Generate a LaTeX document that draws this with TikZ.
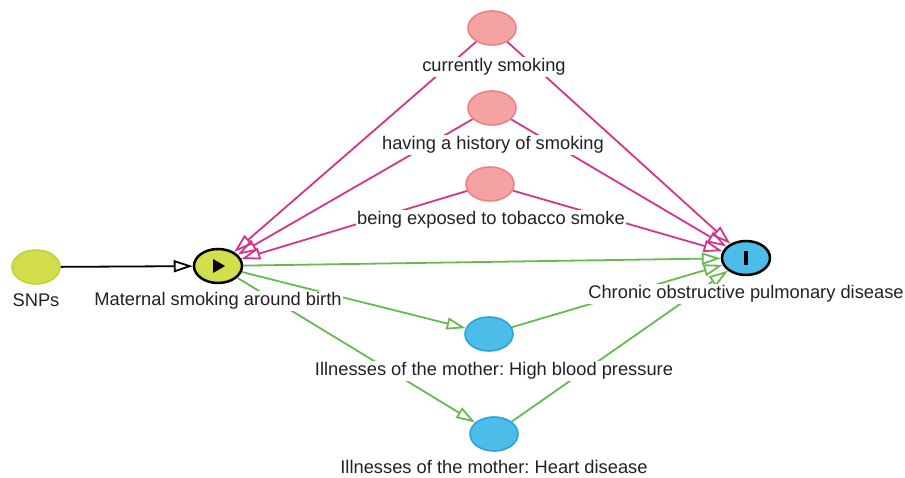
\documentclass[tikz,border=0pt]{standalone}
\usepackage{fontspec}
\setmainfont{Liberation Sans}
\usetikzlibrary{shapes.geometric,arrows.meta}
\definecolor{ygfill}{HTML}{D2DE4C}
\definecolor{ygline}{HTML}{C2D23A}
\definecolor{pkfill}{HTML}{F5A2A2}
\definecolor{pkline}{HTML}{EE8282}
\definecolor{blfill}{HTML}{4CBDE9}
\definecolor{blline}{HTML}{2AA2DB}
\definecolor{pkedge}{HTML}{D6338E}
\definecolor{gredge}{HTML}{66BB50}
\definecolor{txt}{HTML}{222222}
\frenchspacing
\begin{document}
\begin{tikzpicture}[
  x=1pt, y=-1pt,
  var/.style={ellipse, minimum width=48pt, minimum height=34pt, inner sep=0pt, line width=1.6pt},
  anc/.style={var, fill=ygfill, draw=ygline},
  conf/.style={var, fill=pkfill, draw=pkline},
  med/.style={var, fill=blfill, draw=blline},
  key/.style={var, draw=black, line width=2.5pt},
  lbl/.style={fill=white, inner sep=1pt, text=txt, font=\fontsize{18.3}{22}\selectfont},
  >={Triangle[open, length=19pt, width=12pt]},
  edge/.style={->, line width=1.8pt},
  bias/.style={edge, draw=pkedge},
  causal/.style={edge, draw=gredge}
]
\useasboundingbox (0,0) rectangle (905,478);
% variables
\node[anc]  (snps) at (36,267)  {};
\node[key, fill=ygfill] (msab) at (218,266) {};
\node[key, fill=blfill] (copd) at (746,258) {};
\node[conf] (curr) at (492,28)  {};
\node[conf] (hist) at (492,108) {};
\node[conf] (toba) at (490,184) {};
\node[med]  (hbp)  at (489,334) {};
\node[med]  (heart) at (494,434) {};
% exposure and outcome marks
\fill (msab.center) ++(-5,-7) -- ++(0,14) -- ++(12,-7) -- cycle;
\fill (copd.center) ++(-2,-7) rectangle ++(4,14);
% edges
\draw[edge] (snps) -- (msab);
\foreach \c in {curr,hist,toba} {
  \draw[bias] (\c) -- (msab);
  \draw[bias] (\c) -- (copd);
}
\draw[causal] (msab) -- (copd);
\draw[causal] (msab) -- (hbp);
\draw[causal] (msab) -- (heart);
\draw[causal] (hbp) -- (copd);
\draw[causal] (heart) -- (copd);
% labels
\node[lbl] (snpsl)  at (36,300)  {SNPs};
\node[lbl] (msabl)  at (218,301) {Maternal smoking around birth};
\node[lbl] (copdl)  at (746,294) {Chronic obstructive pulmonary disease};
\node[lbl] (currl)  at (494,67)  {currently smoking};
\node[lbl] (histl)  at (493,145) {having a history of smoking};
\node[lbl] (tobal)  at (491,220) {being exposed to tobacco smoke};
\node[lbl] (hbpl)   at (494,371) {Illnesses of the mother: High blood pressure};
\node[lbl] (heartl) at (494,467) {Illnesses of the mother: Heart disease};
\end{tikzpicture}
\end{document}
